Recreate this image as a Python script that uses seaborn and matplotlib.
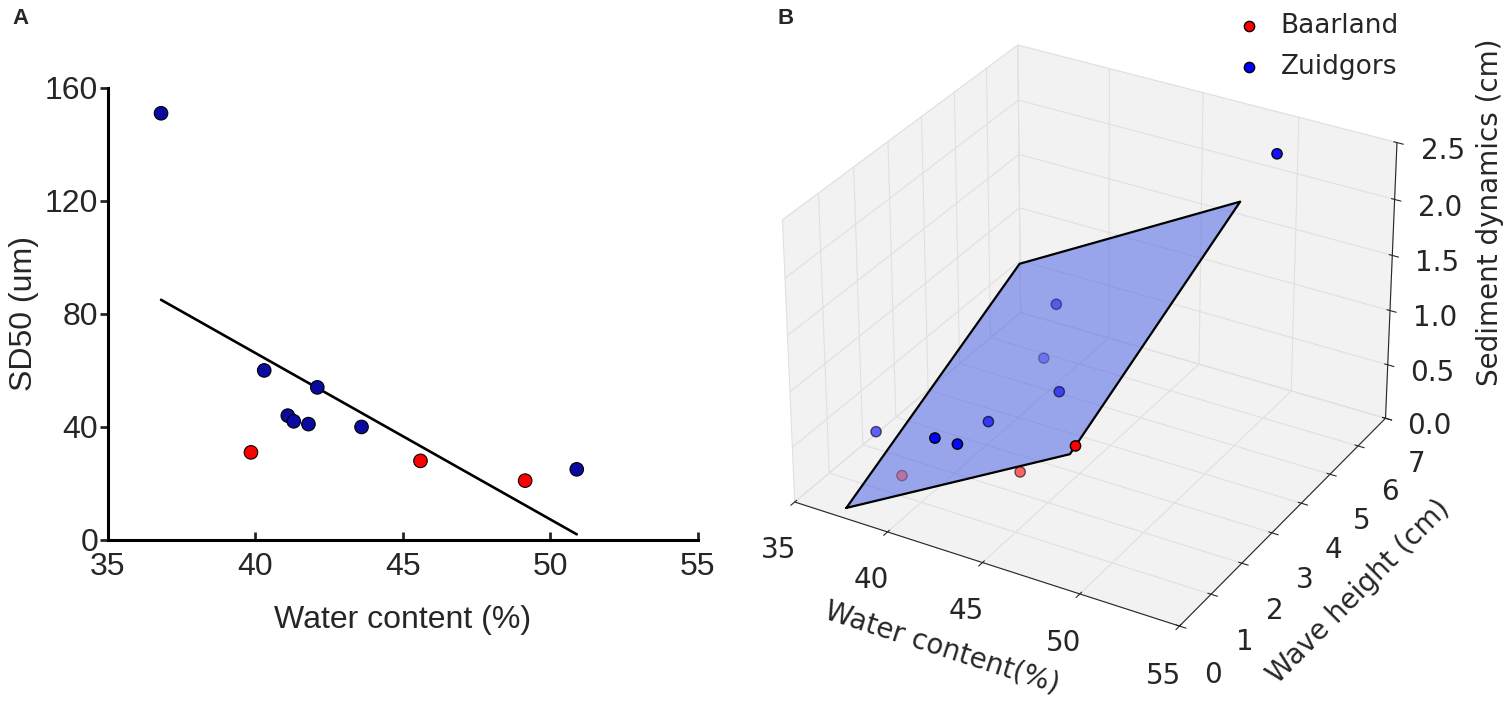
import matplotlib
matplotlib.use("Agg")
import matplotlib.pyplot as plt
import seaborn as sns
import pandas as pd
import numpy as np

# panel A data
site = ["Zuidgors", "Zuidgors", "Zuidgors", "Zuidgors", "Zuidgors", "Zuidgors",
        "Zuidgors", "Zuidgors", "Baarland", "Baarland", "Baarland"]
water = [36.8, 40.3, 41.1, 41.3, 41.8, 42.1, 43.6, 50.9, 39.85, 45.6, 49.15]
sd50 = [151, 60, 44, 42, 41, 54, 40, 25, 31, 28, 21]
fit_x = [36.8, 50.9]
fit_y = [85, 2]

# panel B data (3D)
wc_b = [40.3, 41.1, 41.3, 41.8, 42.1, 43.6, 36.8, 50.3, 39.85, 45.6, 49.15]
wave = [1.28, 1.50, 2.33, 3.78, 4.01, 3.20, 1.45, 6.06, 0.54, 0.81, 0.39]
sed = [0.53, 0.46, 0.46, 0.70, 1.15, 0.63, 0.36, 2.40, 0.36, 0.63, 1.16]
site_b = ["Zuidgors"] * 8 + ["Baarland"] * 3

# fitted plane corners
plane_x = [37.1, 48.9]
plane_y = [0.37, 5.77]
plane_z = [[-0.04, 1.08], [0.86, 1.98]]

df_a = pd.DataFrame({"water": water, "sd50": sd50, "site": site})
df_b = pd.DataFrame({"water": wc_b, "wave": wave, "sed": sed, "site": site_b})

sns.set_style("white")
plt.rcParams["font.family"] = ["Liberation Sans", "DejaVu Sans"]

fig = plt.figure(figsize=(15.12, 7.01), dpi=100)

# ---- panel B (3D) first so panel A draws on top
ax2 = fig.add_axes([0.4675, -0.035, 0.50, 1.12], projection="3d")
ax2.patch.set_alpha(0)
ax2.view_init(elev=30, azim=-60)
ax2.set_box_aspect((1, 1, 0.73), zoom=0.901)
ax2.computed_zorder = False
PX, PY = np.meshgrid(plane_x, plane_y)
PZ = np.array(plane_z)
ax2.plot_surface(PX, PY, PZ, color=(0.25, 0.35, 0.9), alpha=0.5,
                 linewidth=0, shade=False, zorder=1)
edge_x = [plane_x[0], plane_x[1], plane_x[1], plane_x[0], plane_x[0]]
edge_y = [plane_y[0], plane_y[0], plane_y[1], plane_y[1], plane_y[0]]
edge_z = [PZ[0, 0], PZ[0, 1], PZ[1, 1], PZ[1, 0], PZ[0, 0]]
ax2.plot(edge_x, edge_y, edge_z, color="black", lw=1.6, zorder=2)
cols = {"Baarland": "red", "Zuidgors": "blue"}
for name in ["Baarland", "Zuidgors"]:
    d = df_b[df_b["site"] == name]
    ax2.scatter(d["water"], d["wave"], d["sed"], c=cols[name], s=55,
                edgecolors="black", linewidths=1, label=name, depthshade=True,
                zorder=3)
ax2.set_xlim(35, 55)
ax2.set_ylim(0, 7)
ax2.set_zlim(0, 2.5)
ax2.set_xticks([35, 40, 45, 50, 55])
ax2.set_yticks(range(8))
ax2.set_zticks([0, 0.5, 1.0, 1.5, 2.0, 2.5])
ax2.set_zticklabels(["0.0", "0.5", "1.0", "1.5", "2.0", "2.5"])
for axis in (ax2.xaxis, ax2.yaxis, ax2.zaxis):
    axis.set_pane_color((0.95, 0.95, 0.95, 1.0))
    axis._axinfo["grid"]["color"] = (0.88, 0.88, 0.88, 1)
ax2.tick_params(labelsize=20)
ax2.tick_params(axis="x", pad=12)
ax2.tick_params(axis="y", pad=16)
ax2.tick_params(axis="z", pad=14)
for t in ax2.get_xticklabels() + ax2.get_yticklabels() + ax2.get_zticklabels():
    t.set_family("DejaVu Sans")
ax2.set_xlabel("Water content(%)", fontsize=20, family="DejaVu Sans", labelpad=28)
ax2.set_ylabel("Wave height (cm)", fontsize=20, family="DejaVu Sans", labelpad=32)
fig.text(1490 / 1512, 1 - 212 / 701, "Sediment dynamics (cm)", rotation=90,
         fontsize=20, family="DejaVu Sans", ha="center", va="center")
fig.legend(*ax2.get_legend_handles_labels(), loc="upper left",
           bbox_to_anchor=(1236 / 1512, 1 - 13 / 701), frameon=False,
           prop={"family": "DejaVu Sans", "size": 19}, handlelength=1.0,
           handletextpad=0.7, labelspacing=0.55, borderaxespad=0.0,
           borderpad=0.0)
fig.text(0.514, 0.988, "B", fontsize=16, fontweight="bold", va="top")

# ---- panel A
ax1 = fig.add_axes([0.0714, 0.2297, 0.390, 0.645])
sns.scatterplot(data=df_a, x="water", y="sd50", hue="site",
                palette={"Zuidgors": "#0a0aa0", "Baarland": "red"},
                s=95, edgecolor="black", linewidth=0.8, legend=False, ax=ax1, zorder=3)
sns.lineplot(x=fit_x, y=fit_y, color="black", lw=1.9, ax=ax1)
ax1.set_xlim(35, 55)
ax1.set_ylim(0, 160)
ax1.set_xticks([35, 40, 45, 50, 55])
ax1.set_yticks([0, 40, 80, 120, 160])
ax1.set_xlabel("Water content (%)", fontsize=23, labelpad=16)
ax1.set_ylabel("SD50 (um)", fontsize=23, labelpad=4)
ax1.tick_params(axis="both", labelsize=23)
ax1.tick_params(axis="x", direction="in", length=6, width=2, pad=9, bottom=True)
ax1.tick_params(axis="y", direction="out", length=6, width=2, pad=1, left=True)
sns.despine(ax=ax1)
for sp in ["left", "bottom"]:
    ax1.spines[sp].set_linewidth(2.2)
    ax1.spines[sp].set_color("black")
ax1.patch.set_alpha(0)
fig.text(0.008, 0.988, "A", fontsize=16, fontweight="bold", va="top")

fig.savefig("out.png", dpi=100)
